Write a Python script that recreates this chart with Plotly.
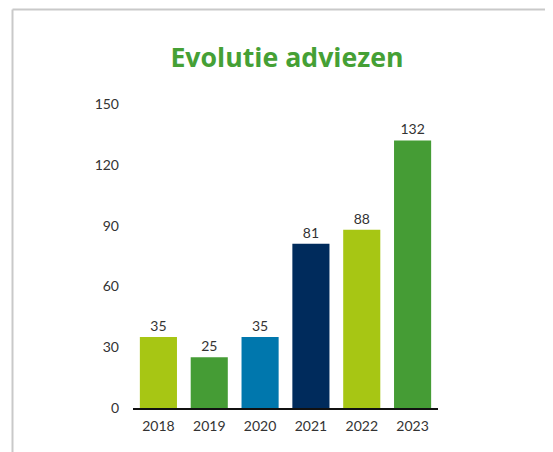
import plotly.graph_objects as go

years = ["2018", "2019", "2020", "2021", "2022", "2023"]
adviezen = [35, 25, 35, 81, 88, 132]
bar_colors = ["#a7c614", "#459c35", "#0077ad", "#002b5c", "#a7c614", "#459c35"]
y_ticks = [0, 30, 60, 90, 120, 150]

OFF = 8  # default body margin of the page
W, H = 553 - OFF, 452 - OFF
# page-coordinate layout targets
PL, PR, PT, PB = 133, 438, 104, 408
L, T = PL - OFF, PT - OFF
R, B = W - (PR - OFF), H - (PB - OFF)
pw, ph = W - L - R, H - T - B

fig = go.Figure(go.Bar(
    x=years, y=adviezen,
    marker=dict(color=bar_colors, line=dict(width=0)),
    text=adviezen, textposition="outside", cliponaxis=False,
    textfont=dict(family="Lato, sans-serif", size=14, color="#333333"),
))

def px_x(px):
    return (px - OFF - L) / pw

def px_y(py):
    return (H - B - (py - OFF)) / ph

frame = dict(color="#c9c9c9", width=2)
fig.add_shape(type="line", xref="paper", yref="paper",
              x0=px_x(12.5), x1=px_x(560), y0=px_y(9.5), y1=px_y(9.5), line=frame)
fig.add_shape(type="line", xref="paper", yref="paper",
              x0=px_x(12.5), x1=px_x(12.5), y0=px_y(9.5), y1=px_y(460), line=frame)

fig.update_layout(
    width=W, height=H,
    margin=dict(l=L, r=R, t=T, b=B),
    paper_bgcolor="white", plot_bgcolor="white",
    bargap=0.27,
    showlegend=False,
    title=dict(text="<b>Evolutie adviezen</b>", x=px_x(287), xref="paper", xanchor="center",
               y=1 - (58 - OFF) / H, yanchor="middle",
               font=dict(family="Open Sans, sans-serif", size=26.7, color="#45a035")),
    font=dict(family="Lato, sans-serif", size=14, color="#333333"),
)
fig.update_xaxes(showline=True, linecolor="#111111", linewidth=1.5, showgrid=False,
                 ticks="", tickfont=dict(size=14, color="#333333"), ticklabelstandoff=4)
fig.update_yaxes(range=[0, 150], tickvals=y_ticks, showgrid=False, zeroline=False,
                 showline=False, ticks="", tickfont=dict(size=14, color="#333333"),
                 ticklabelstandoff=13)

fig.write_html("out.html")
